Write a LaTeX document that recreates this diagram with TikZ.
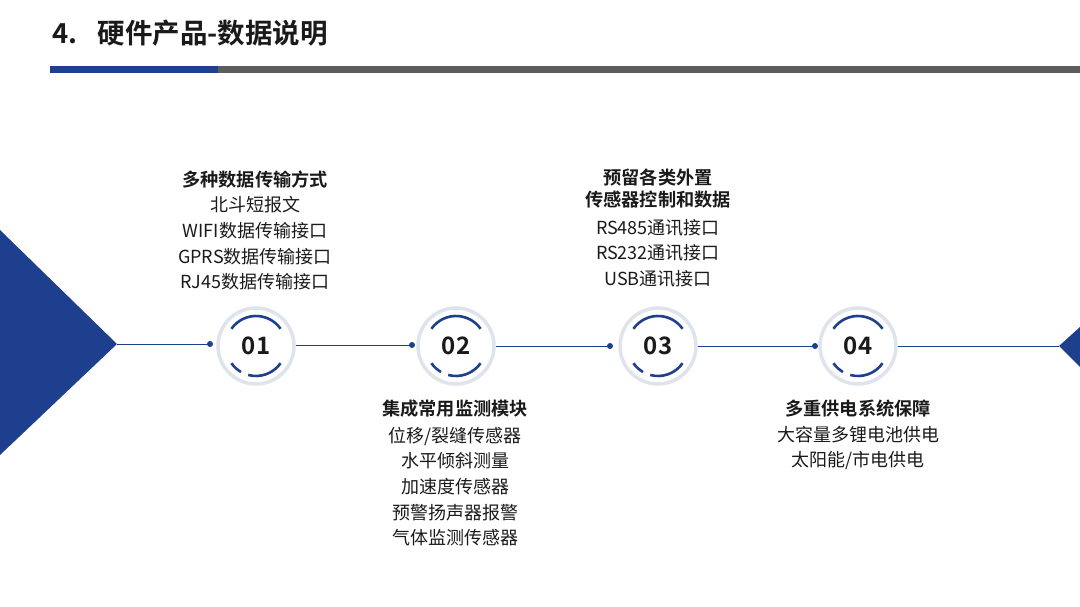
\documentclass[tikz,border=0pt]{standalone}
\usepackage{fontspec}
\setmainfont{Noto Sans CJK SC}[BoldFont={Noto Sans CJK SC Bold}]
\definecolor{navy}{HTML}{1D3F8E}
\definecolor{barblue}{HTML}{1F3F8F}
\definecolor{bargray}{HTML}{5C5C5C}
\definecolor{ringgray}{HTML}{DFE3EC}
\definecolor{txt}{HTML}{1A1A1A}
\begin{document}
\begin{tikzpicture}[x=1pt,y=-1pt,
  ring/.style={circle,minimum size=76pt,inner sep=0pt,fill=white,draw=ringgray,line width=3.5pt,font=\fontsize{24}{24}\selectfont\bfseries,text=txt},
  arcline/.style={navy,line width=2.6pt},
  conn/.style={navy,line width=1pt},
  dotc/.style={circle,fill=navy,inner sep=0pt,minimum size=6pt},
  body/.style={align=center,text=txt,font=\fontsize{18}{25.6}\selectfont},
  head/.style={align=center,text=txt,font=\fontsize{18.2}{22}\selectfont\bfseries}
]
\useasboundingbox (0,0) rectangle (1080,607);
% header
\node[anchor=west,text=txt,font=\fontsize{27.5}{27.5}\selectfont\bfseries] (title) at (49,33) {4.\hspace{20pt}硬件产品-数据说明};
\fill[barblue] (50,66) rectangle (218,73);
\fill[bargray] (218,66) rectangle (1080,73);
% triangles
\fill[navy] (0,230) -- (117,344) -- (0,455) -- cycle;
\fill[navy] (1080,327) -- (1059,346) -- (1080,367) -- cycle;
\coordinate (ltip) at (117,344);
\coordinate (rtip) at (1059,346);
% circles
\foreach \n/\x in {1/256,2/456,3/658,4/858}{
  \node[ring] (c\n) at (\x,346) {0\n};
  \draw[arcline] ([shift={(215:30)}]\x,346) arc[start angle=215,end angle=325,radius=30];
  \draw[arcline] ([shift={(35:30)}]\x,346) arc[start angle=35,end angle=105,radius=30];
  \draw[arcline] ([shift={(120:30)}]\x,346) arc[start angle=120,end angle=145,radius=30];
}
\node[dotc] (d1) at (210,344) {};
\node[dotc] (d2) at (412,345) {};
\node[dotc] (d3) at (610,346) {};
\node[dotc] (d4) at (815,346) {};
\draw[conn] (ltip) -- (d1.center);
\draw[conn] (c1.east |- d2) -- (d2.center);
\draw[conn] (c2.east) -- (d3.center);
\draw[conn] (c3.east) -- (d4.center);
\draw[conn] (c4.east) -- (rtip);
% texts
\node[head] (h1) at (255,180) {多种数据传输方式};
\node[body] (b1) at (255,243.5) {北斗短报文\\WIFI数据传输接口\\GPRS数据传输接口\\RJ45数据传输接口};
\node[head] (h2) at (455,409) {集成常用监测模块};
\node[body] (b2) at (455,486.5) {位移/裂缝传感器\\水平倾斜测量\\加速度传感器\\预警扬声器报警\\气体监测传感器};
\node[head] (h3) at (658,189) {预留各类外置\\传感器控制和数据};
\node[body] (b3) at (658,253) {RS485通讯接口\\RS232通讯接口\\USB通讯接口};
\node[head] (h4) at (858,409) {多重供电系统保障};
\node[body] (b4) at (858,448) {大容量多锂电池供电\\太阳能/市电供电};
\end{tikzpicture}
\end{document}
